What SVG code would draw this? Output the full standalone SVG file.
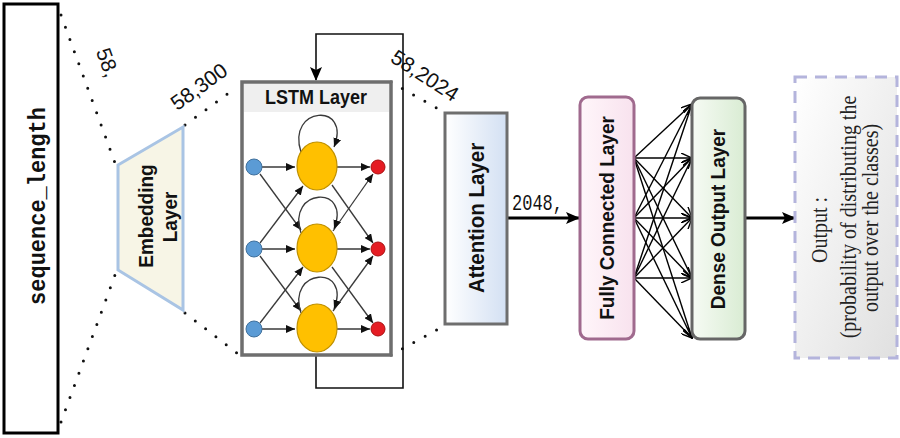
<svg xmlns="http://www.w3.org/2000/svg" width="900" height="438" viewBox="0 0 900 438">
<defs>
<style>
.dot{fill:none;stroke:#111;stroke-width:3;stroke-linecap:round;stroke-dasharray:0 13}
.lbl{font-family:"Liberation Sans",Arial,sans-serif;font-size:21px;fill:#111}
.bold{font-family:"Liberation Sans",Arial,sans-serif;font-weight:bold;fill:#111;text-anchor:middle}
.mono{font-family:"Liberation Mono","DejaVu Sans Mono",monospace;fill:#111}
.serif{font-family:"Liberation Serif","Times New Roman",serif;font-size:20px;fill:#222;text-anchor:middle}
.ln{fill:none;stroke:#3a3a3a;stroke-width:1.3}
.mesh{fill:none;stroke:#000;stroke-width:1.4}
.loop{fill:none;stroke:#111;stroke-width:1.6}
.blue{fill:#5b9bd5;stroke:#41719c;stroke-width:1}
.yel{fill:#ffc000;stroke:#bf9000;stroke-width:1.2}
.red{fill:#e51c23;stroke:#a81010;stroke-width:1}
</style>
<marker id="ah" markerUnits="userSpaceOnUse" markerWidth="9" markerHeight="8" refX="9" refY="4" orient="auto">
<path d="M0,0 L9,4 L0,8 Z" fill="#111"/>
</marker>
<marker id="ahBig" markerUnits="userSpaceOnUse" markerWidth="14" markerHeight="12" refX="13" refY="6" orient="auto">
<path d="M0,0 L14,6 L0,12 L3,6 Z" fill="#000"/>
</marker>
<marker id="ahOpen" markerUnits="userSpaceOnUse" markerWidth="12" markerHeight="10" refX="11" refY="5" orient="auto">
<path d="M0,0 L11,5 L0,10" fill="none" stroke="#000" stroke-width="1.4"/>
</marker>
<linearGradient id="gAtt" x1="0" y1="0" x2="1" y2="0">
<stop offset="0" stop-color="#ffffff"/><stop offset="1" stop-color="#d3e0f3"/>
</linearGradient>
<linearGradient id="gFc" x1="0" y1="0" x2="1" y2="0">
<stop offset="0" stop-color="#fff6fa"/><stop offset="1" stop-color="#f8e2ee"/>
</linearGradient>
<linearGradient id="gDense" x1="0" y1="0" x2="1" y2="0">
<stop offset="0" stop-color="#f6fbf4"/><stop offset="1" stop-color="#d9ecd3"/>
</linearGradient>
<linearGradient id="gOut" x1="0" y1="0" x2="1" y2="1">
<stop offset="0" stop-color="#ffffff"/><stop offset="1" stop-color="#e0e0e0"/>
</linearGradient>
</defs>
<rect width="900" height="438" fill="#fff"/>

<g id="connectors">
<line class="dot" x1="61" y1="15" x2="115" y2="163"/>
<line class="dot" x1="61" y1="422" x2="115" y2="275"/>
<line class="dot" x1="185" y1="125" x2="237" y2="87"/>
<line class="dot" x1="185" y1="313" x2="237" y2="353"/>
<line class="dot" x1="391" y1="82" x2="440" y2="110"/>
<line class="dot" x1="391" y1="355" x2="440" y2="328"/>
<polyline class="loop" points="316,355 316,388 403,388 403,34 316,34 316,80" marker-end="url(#ahBig)"/>
<line x1="507" y1="218" x2="579" y2="218" stroke="#000" stroke-width="3" marker-end="url(#ahBig)"/>
<line x1="745" y1="218" x2="795" y2="218" stroke="#000" stroke-width="3" marker-end="url(#ahBig)"/>
<g id="mesh">
<line class="mesh" x1="634" y1="158" x2="692" y2="104" marker-end="url(#ahOpen)"/>
<line class="mesh" x1="634" y1="158" x2="692" y2="158" marker-end="url(#ahOpen)"/>
<line class="mesh" x1="634" y1="158" x2="692" y2="218" marker-end="url(#ahOpen)"/>
<line class="mesh" x1="634" y1="158" x2="692" y2="278" marker-end="url(#ahOpen)"/>
<line class="mesh" x1="634" y1="158" x2="692" y2="338" marker-end="url(#ahOpen)"/>
<line class="mesh" x1="634" y1="218" x2="692" y2="104" marker-end="url(#ahOpen)"/>
<line class="mesh" x1="634" y1="218" x2="692" y2="158" marker-end="url(#ahOpen)"/>
<line class="mesh" x1="634" y1="218" x2="692" y2="218" marker-end="url(#ahOpen)"/>
<line class="mesh" x1="634" y1="218" x2="692" y2="278" marker-end="url(#ahOpen)"/>
<line class="mesh" x1="634" y1="218" x2="692" y2="338" marker-end="url(#ahOpen)"/>
<line class="mesh" x1="634" y1="278" x2="692" y2="104" marker-end="url(#ahOpen)"/>
<line class="mesh" x1="634" y1="278" x2="692" y2="158" marker-end="url(#ahOpen)"/>
<line class="mesh" x1="634" y1="278" x2="692" y2="218" marker-end="url(#ahOpen)"/>
<line class="mesh" x1="634" y1="278" x2="692" y2="278" marker-end="url(#ahOpen)"/>
<line class="mesh" x1="634" y1="278" x2="692" y2="338" marker-end="url(#ahOpen)"/>
</g>
<text class="lbl" transform="translate(106,63) rotate(70)" text-anchor="middle" dominant-baseline="middle">58,</text>
<text class="lbl" transform="translate(200,88) rotate(-36)" text-anchor="middle" dominant-baseline="middle">58,300</text>
<text class="lbl" transform="translate(424,77) rotate(33)" text-anchor="middle" dominant-baseline="middle">58,2024</text>
<text class="mono" font-size="17" transform="translate(512,210) scale(1,1.3)">2048,</text>
</g>

<g id="sequence_length">
<rect x="4" y="4" width="54" height="429" fill="#fff" stroke="#000" stroke-width="3"/>
<text class="mono" font-weight="bold" font-size="22" text-anchor="middle" transform="translate(45,206) rotate(-90) scale(1,1.1)">sequence_length</text>
</g>

<g id="embedding">
<polygon points="118,165 183,127 183,310 118,270" fill="#f7f5e6" stroke="#a9c4e4" stroke-width="3"/>
<text class="bold" font-size="19" transform="translate(153,216) rotate(-90) scale(1,1.1)">Embedding</text>
<text class="bold" font-size="19" transform="translate(177,217) rotate(-90) scale(1,1.1)">Layer</text>
</g>

<g id="lstm">
<rect x="242" y="82" width="149" height="273" fill="#fff" stroke="#6e6e6e" stroke-width="3.5"/>
<rect x="244" y="84" width="145" height="28" fill="#efefef"/>
<text class="bold" font-size="18" transform="translate(316,104) scale(1,1.1)">LSTM Layer</text>
<g id="lstm-links">
<line class="ln" x1="262" y1="167" x2="295" y2="167" marker-end="url(#ah)"/>
<line class="ln" x1="262" y1="249" x2="295" y2="249" marker-end="url(#ah)"/>
<line class="ln" x1="262" y1="329" x2="295" y2="329" marker-end="url(#ah)"/>
<line class="ln" x1="337" y1="167" x2="370" y2="167" marker-end="url(#ah)"/>
<line class="ln" x1="337" y1="249" x2="370" y2="249" marker-end="url(#ah)"/>
<line class="ln" x1="337" y1="329" x2="370" y2="329" marker-end="url(#ah)"/>
<line class="ln" x1="260" y1="174" x2="301" y2="230" marker-end="url(#ah)"/>
<line class="ln" x1="260" y1="243" x2="303" y2="186" marker-end="url(#ah)"/>
<line class="ln" x1="260" y1="256" x2="301" y2="311" marker-end="url(#ah)"/>
<line class="ln" x1="260" y1="323" x2="303" y2="267" marker-end="url(#ah)"/>
<line class="ln" x1="332" y1="185" x2="373" y2="243" marker-end="url(#ah)"/>
<line class="ln" x1="333" y1="231" x2="373" y2="174" marker-end="url(#ah)"/>
<line class="ln" x1="332" y1="267" x2="373" y2="323" marker-end="url(#ah)"/>
<line class="ln" x1="333" y1="311" x2="373" y2="256" marker-end="url(#ah)"/>
<path class="ln" d="M301,152 C286,106 352,102 334,147" marker-end="url(#ah)"/>
<path class="ln" d="M301,233 C286,188 352,184 334,229" marker-end="url(#ah)"/>
<path class="ln" d="M301,313 C286,268 352,264 334,309" marker-end="url(#ah)"/>
</g>
<circle class="blue" cx="254" cy="167" r="8"/>
<circle class="blue" cx="254" cy="249" r="8"/>
<circle class="blue" cx="254" cy="329" r="8"/>
<ellipse class="yel" cx="317" cy="166" rx="20" ry="24"/>
<ellipse class="yel" cx="317" cy="248" rx="20" ry="24"/>
<ellipse class="yel" cx="317" cy="328" rx="20" ry="24"/>
<circle class="red" cx="378" cy="167" r="7"/>
<circle class="red" cx="378" cy="249" r="7"/>
<circle class="red" cx="378" cy="329" r="7"/>
</g>

<g id="attention">
<rect x="445" y="113" width="62" height="211" fill="url(#gAtt)" stroke="#6e6e6e" stroke-width="3"/>
<text class="bold" font-size="20.5" transform="translate(484,218) rotate(-90) scale(1,1.05)">Attention Layer</text>
</g>

<g id="fully-connected">
<rect x="580" y="97" width="54" height="242" rx="8" fill="url(#gFc)" stroke="#a06a8e" stroke-width="3"/>
<text class="bold" font-size="19" transform="translate(614,218) rotate(-90) scale(1,1.05)">Fully Connected Layer</text>
</g>

<g id="dense-output">
<rect x="692" y="98" width="53" height="241" rx="8" fill="url(#gDense)" stroke="#666" stroke-width="3"/>
<text class="bold" font-size="19" transform="translate(725,219) rotate(-90) scale(1,1.05)">Dense Output Layer</text>
</g>

<g id="output">
<rect x="795" y="77" width="102" height="281" fill="url(#gOut)" stroke="#b4b4dc" stroke-width="3" stroke-dasharray="12 8"/>
<text class="serif" transform="translate(827,230) rotate(-90) scale(1,1.12)">Output :</text>
<text class="serif" transform="translate(856,217) rotate(-90) scale(1,1.12)">(probability of distributing the</text>
<text class="serif" transform="translate(878,218) rotate(-90) scale(1,1.12)">output over the classes)</text>
</g>
</svg>
